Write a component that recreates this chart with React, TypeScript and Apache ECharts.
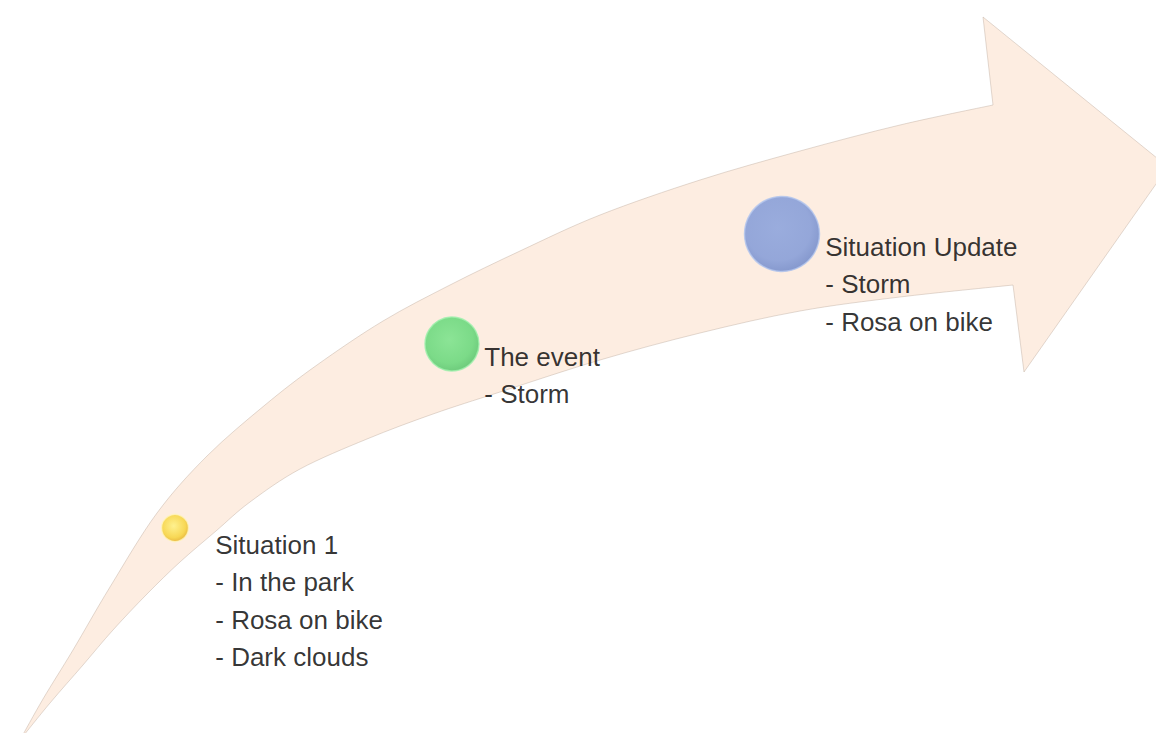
import React, { useEffect, useRef } from "react";
import * as echarts from "echarts";

const W = 1156;
const H = 733;

// Arrow outline in diagram units (1156 x 733 canvas)
const arrowUpperEdge: [number, number][] = [
  [20, 740], [43, 699], [73, 650], [110, 587], [157, 513], [207, 456], [265, 405], [317, 365],
  [383, 321], [450, 285], [520, 251], [600, 215], [700, 180], [800, 151], [900, 125], [993, 105],
];
const arrowLowerEdge: [number, number][] = [
  [20, 740], [50, 703], [83, 665], [113, 630], [147, 594], [180, 562], [216, 531], [250, 502],
  [300, 469], [367, 439], [433, 414], [500, 392], [600, 360], [700, 333], [800, 311], [900, 297], [1013, 285],
];
const arrowHead: [number, number][] = [[993, 105], [983, 17], [1168, 167], [1024, 372], [1013, 285]];

// Steps
const stepTitles = ["Situation 1", "The event", "Situation Update"];
const stepDetails = [["In the park", "Rosa on bike", "Dark clouds"], ["Storm"], ["Storm", "Rosa on bike"]];
const stepX = [175, 452, 782];
const stepY = [528, 344, 234];
const stepSize = [27, 54, 75];

// Styles
const stepGradients = [
  ["#fff27a", "#f6d232", "#e0a514"],
  ["#6fe283", "#5bd672", "#47bf60"],
  ["#819cdc", "#7a95d7", "#6480c6"],
];
const stepBorders = ["rgba(255,244,190,0.95)", "#9ff0ad", "#b3c5ee"];
const labelOffsets: [number, number][] = [[54.5, 12], [60, 21.5], [81.5, 32]];

function catmull(pts: number[][]): string {
  let d = "";
  for (let i = 0; i < pts.length - 1; i++) {
    const p0 = pts[Math.max(0, i - 1)];
    const p1 = pts[i];
    const p2 = pts[i + 1];
    const p3 = pts[Math.min(pts.length - 1, i + 2)];
    const c1x = p1[0] + (p2[0] - p0[0]) / 6;
    const c1y = p1[1] + (p2[1] - p0[1]) / 6;
    const c2x = p2[0] - (p3[0] - p1[0]) / 6;
    const c2y = p2[1] - (p3[1] - p1[1]) / 6;
    d += `C${c1x},${c1y} ${c2x},${c2y} ${p2[0]},${p2[1]}`;
  }
  return d;
}

export default function App() {
  const ref = useRef<HTMLDivElement>(null);
  useEffect(() => {
    if (!ref.current) return;
    document.body.style.margin = "0";
    document.body.style.overflow = "hidden";
    const chart = echarts.init(ref.current, null, { renderer: "svg", width: W, height: H });
    const option: any = {
      animation: false,
      backgroundColor: "#ffffff",
      grid: { left: 0, right: 0, top: 0, bottom: 0 },
      xAxis: { type: "value", min: 0, max: W, show: false },
      yAxis: { type: "value", min: 0, max: H, inverse: true, show: false },
      tooltip: { show: false },
      series: [
        {
          type: "custom",
          silent: true,
          clip: false,
          data: [[0, 0]],
          renderItem: (params: any, api: any) => {
            const up = arrowUpperEdge.map((p) => api.coord(p));
            const low = arrowLowerEdge.map((p) => api.coord(p)).reverse();
            const head = arrowHead.map((p) => api.coord(p));
            let d = `M${up[0][0]},${up[0][1]}` + catmull(up);
            for (let i = 1; i < head.length; i++) d += `L${head[i][0]},${head[i][1]}`;
            d += catmull(low) + "Z";
            return {
              type: "path",
              shape: { pathData: d },
              style: {
                fill: "#fdede1",
                stroke: "rgba(190,172,160,0.45)",
                lineWidth: 1,
              },
            };
          },
        },
        {
          type: "scatter",
          silent: true,
          symbol: "circle",
          data: stepTitles.map((t, i) => ({
            value: [stepX[i], stepY[i]],
            symbolSize: stepSize[i],
            itemStyle: {
              color: new echarts.graphic.RadialGradient(0.45, 0.42, 0.62, [
                { offset: 0, color: stepGradients[i][0] },
                { offset: 0.7, color: stepGradients[i][1] },
                { offset: 1, color: stepGradients[i][2] },
              ]),
              borderColor: stepBorders[i],
              borderWidth: 1.5,
            },
            label: {
              show: true,
              position: labelOffsets[i],
              formatter: [t, ...stepDetails[i].map((s) => "- " + s)].join("\n"),
              color: "#000000",
              fontFamily: "'Liberation Sans', Arial, sans-serif",
              fontSize: 26,
              lineHeight: 37.5,
              align: "left",
              verticalAlign: "top",
            },
          })),
        },
      ],
    };
    chart.setOption(option);
    return () => chart.dispose();
  }, []);
  return <div ref={ref} style={{ width: W, height: H, background: "#fff" }} />;
}
